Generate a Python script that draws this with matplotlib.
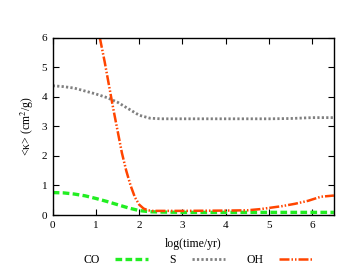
import matplotlib
matplotlib.use("Agg")
import matplotlib.pyplot as plt
import numpy as np

plt.rcParams['font.family'] = ['Liberation Serif', 'DejaVu Serif']
plt.rcParams['mathtext.fontset'] = 'stix'

x_co = [0, 0.25, 0.5, 0.75, 1.0, 1.25, 1.5, 1.75, 2.0, 2.25, 2.5, 3, 4, 5, 6, 6.5]
y_co = [0.76, 0.75, 0.71, 0.65, 0.56, 0.46, 0.35, 0.24, 0.15, 0.11, 0.1, 0.09, 0.09, 0.09, 0.09, 0.09]

x_s = [0, 0.25, 0.5, 0.75, 1.0, 1.25, 1.5, 1.75, 2.0, 2.25, 2.5, 3, 4, 5, 5.5, 6, 6.5]
y_s = [4.38, 4.35, 4.3, 4.2, 4.1, 3.98, 3.82, 3.6, 3.38, 3.28, 3.26, 3.26, 3.26, 3.26, 3.27, 3.3, 3.3]

x_oh = [1.09, 1.2, 1.3, 1.4, 1.5, 1.6, 1.7, 1.8, 1.9, 2.0, 2.1, 2.2, 2.3, 2.5, 3, 4, 4.5, 4.8, 5.0, 5.3, 5.6, 5.9, 6.2, 6.5]
y_oh = [6.0, 5.2, 4.4, 3.6, 2.85, 2.1, 1.5, 1.0, 0.6, 0.35, 0.22, 0.16, 0.14, 0.14, 0.14, 0.15, 0.16, 0.2, 0.24, 0.3, 0.38, 0.48, 0.62, 0.66]

fig = plt.figure(figsize=(3.5, 2.71), dpi=100)
ax = fig.add_axes([0.1506, 0.2066, 0.8034, 0.6534])

l1, = ax.plot(x_co, y_co, color='#22ee22', ls=(0, (2.0, 1.0)), lw=2.4, label='CO')
l2, = ax.plot(x_s, y_s, color='#808080', ls=(0, (0.8, 0.8)), lw=2.0, label='S')
l3, = ax.plot(x_oh, y_oh, color='#ff4500', ls=(0, (4, 0.8, 0.6, 0.8, 0.6, 0.8)), lw=1.8, label='OH')

ax.set_xlim(0, 6.5)
ax.set_ylim(0, 6)
ax.set_xticks([0, 1, 2, 3, 4, 5, 6])
ax.set_yticks([0, 1, 2, 3, 4, 5, 6])
ax.tick_params(direction='in', top=True, right=True, labelsize=8, length=4, width=0.8, pad=4)
for s in ax.spines.values():
    s.set_linewidth(1.0)
ax.set_xlabel('log(time/yr)', fontsize=8.5, labelpad=6)
ax.set_ylabel(r'<κ> (cm$^2$/g)', fontsize=8.5, labelpad=4)

fig.legend(handles=[l1, l2, l3], loc='center', bbox_to_anchor=(0.565, 0.04), ncol=3,
           frameon=False, markerfirst=False, fontsize=8.5, handlelength=2.8,
           columnspacing=1.8, handletextpad=1.35)

fig.savefig('out.png', dpi=100)
